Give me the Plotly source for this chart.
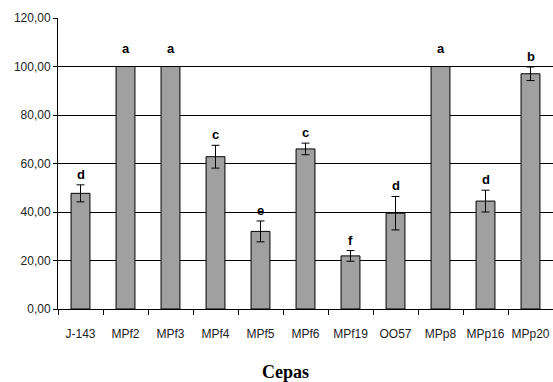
import plotly.graph_objects as go

categories = ["J-143", "MPf2", "MPf3", "MPf4", "MPf5", "MPf6", "MPf19", "OO57", "MPp8", "MPp16", "MPp20"]
values = [47.7, 100.0, 100.0, 62.8, 32.0, 66.0, 21.9, 39.5, 100.0, 44.5, 97.0]
errors = [3.5, 0.0, 0.0, 4.7, 4.3, 2.4, 2.2, 6.9, 0.0, 4.5, 2.8]
letters = ["d", "a", "a", "c", "e", "c", "f", "d", "a", "d", "b"]
y_ticks = [0, 20, 40, 60, 80, 100, 120]

fig = go.Figure()
fig.add_trace(go.Bar(
    x=categories, y=values,
    marker=dict(color="#A0A0A0", line=dict(color="#000000", width=1)),
    error_y=dict(type="data", array=errors, visible=True, color="#000000", thickness=1, width=4),
    width=0.42,
))

for c, v, e, l in zip(categories, values, errors, letters):
    fig.add_annotation(
        x=c, y=v + e, text="<b>%s</b>" % l, showarrow=False,
        yanchor="bottom", yshift=(9 if e == 0 else 1),
        font=dict(family="Liberation Sans, Arial", size=13, color="#000000"),
    )

fig.add_annotation(
    xref="paper", yref="paper", x=0.459, y=-0.218, xanchor="center", yanchor="middle",
    text="<b>Cepas</b>", showarrow=False,
    font=dict(family="Liberation Serif, Times New Roman", size=18, color="#000000"),
)

fig.update_layout(
    width=553, height=382,
    margin=dict(l=58, r=0, t=18, b=73, autoexpand=False),
    paper_bgcolor="white", plot_bgcolor="white",
    separators=", ",
    showlegend=False,
    font=dict(family="Liberation Sans, Arial", size=12, color="#222222"),
)
fig.update_yaxes(
    range=[0, 120], tickvals=y_ticks, tickformat=".2f",
    showgrid=True, gridcolor="#000000", gridwidth=1,
    showline=True, linecolor="#000000", linewidth=1,
    ticks="outside", ticklen=4, tickcolor="#000000",
    zeroline=False, fixedrange=True, automargin=False,
    tickfont=dict(size=12),
)
fig.update_xaxes(
    showline=True, linecolor="#000000", linewidth=1,
    ticks="outside", tickson="boundaries", ticklen=5, tickcolor="#000000",
    showgrid=False, automargin=False, tickangle=0, ticklabelstandoff=14,
    tickfont=dict(size=12),
)

fig.write_html("out.html", config={"displayModeBar": False},
               post_script="document.body.style.margin='0';")
